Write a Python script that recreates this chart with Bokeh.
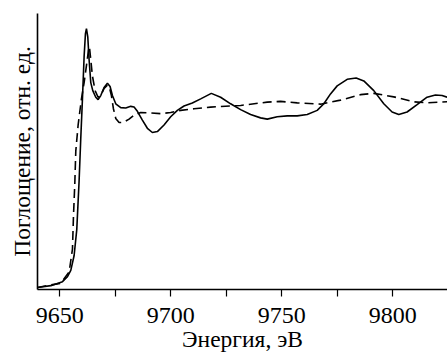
from bokeh.plotting import figure
from bokeh.models import FixedTicker, Range1d
from bokeh.embed import file_html
from bokeh.resources import INLINE

# Solid curve (energy, eV ; absorption, a.u.)
solid_e = [9640.0, 9646.0, 9651.25, 9653.5, 9655.0, 9656.5, 9657.7, 9658.75, 9659.5, 9660.25,
           9661.0, 9661.6, 9662.05, 9662.65, 9663.25, 9664.0, 9664.9, 9666.25, 9667.3, 9668.5,
           9670.0, 9671.5, 9672.7, 9673.75, 9675.25, 9677.5, 9679.75, 9682.0, 9683.5, 9685.0,
           9687.25, 9689.5, 9691.75, 9694.0, 9697.0, 9700.0, 9703.0, 9706.0, 9709.75, 9713.5,
           9718.3, 9722.5, 9727.0, 9731.5, 9736.0, 9740.5, 9743.5, 9748.0, 9752.5, 9757.0,
           9761.5, 9766.0, 9769.0, 9772.0, 9775.0, 9779.5, 9783.55, 9787.0, 9791.5, 9796.0,
           9799.75, 9802.75, 9806.5, 9811.0, 9815.5, 9819.25, 9822.25, 9824.5]
solid_y = [0.011, 0.021, 0.043, 0.070, 0.105, 0.186, 0.329, 0.596, 0.829, 1.043,
           1.275, 1.400, 1.427, 1.382, 1.257, 1.132, 1.088, 1.052, 1.039, 1.061,
           1.105, 1.129, 1.111, 1.061, 1.016, 0.995, 0.993, 1.002, 0.998, 0.975,
           0.927, 0.882, 0.859, 0.864, 0.900, 0.945, 0.980, 1.004, 1.020, 1.043,
           1.073, 1.052, 1.016, 0.984, 0.957, 0.939, 0.932, 0.945, 0.950, 0.950,
           0.957, 0.980, 1.016, 1.070, 1.114, 1.150, 1.157, 1.141, 1.088, 1.016,
           0.971, 0.957, 0.971, 1.011, 1.052, 1.064, 1.061, 1.052]

# Dashed curve
dashed_e = [9640.0, 9646.0, 9650.5, 9654.25, 9655.75, 9656.2, 9656.8, 9657.25, 9658.3, 9659.8,
            9661.0, 9662.2, 9662.95, 9663.4, 9664.0, 9664.75, 9665.95, 9667.3, 9668.5, 9670.0,
            9671.5, 9672.4, 9673.3, 9674.2, 9675.25, 9676.75, 9678.7, 9681.25, 9683.5, 9686.5,
            9691.0, 9695.5, 9700.0, 9704.5, 9710.5, 9718.0, 9731.5, 9743.5, 9749.5, 9757.0,
            9767.5, 9776.5, 9785.5, 9791.5, 9800.5, 9809.5, 9815.5, 9824.5]
dashed_y = [0.011, 0.025, 0.034, 0.096, 0.221, 0.400, 0.579, 0.757, 0.900, 1.043,
            1.132, 1.238, 1.309, 1.327, 1.257, 1.168, 1.088, 1.052, 1.061, 1.100,
            1.118, 1.105, 1.061, 0.989, 0.936, 0.914, 0.914, 0.932, 0.954, 0.968,
            0.966, 0.962, 0.968, 0.980, 0.989, 0.998, 1.007, 1.025, 1.029, 1.021,
            1.014, 1.036, 1.066, 1.073, 1.054, 1.027, 1.021, 1.027]

major_ticks = [9650, 9700, 9750, 9800]
minor_ticks = [9675, 9725, 9775, 9825]

FONT = "Liberation Serif"

p = figure(width=447, height=354, output_backend="svg", toolbar_location=None,
           x_range=Range1d(9640, 9824.7), y_range=Range1d(0, 1.51),
           min_border_left=37, min_border_right=0, min_border_top=13, min_border_bottom=59)
p.outline_line_color = None
p.grid.visible = False
p.background_fill_color = "white"
p.border_fill_color = "white"

p.line(solid_e, solid_y, line_color="black", line_width=1.6)
p.line(dashed_e, dashed_y, line_color="black", line_width=1.6, line_dash="9 5")

xa = p.xaxis[0]
xa.ticker = FixedTicker(ticks=major_ticks, minor_ticks=minor_ticks)
xa.axis_line_width = 1.6
xa.axis_line_color = "black"
xa.major_tick_in = 0
xa.major_tick_out = 7
xa.minor_tick_in = 0
xa.minor_tick_out = 7
xa.major_tick_line_width = 1.2
xa.minor_tick_line_width = 1.2
xa.major_label_text_font = FONT
xa.major_label_text_font_size = "24px"
xa.major_label_text_color = "black"
xa.major_label_standoff = 11
xa.axis_label = "Энергия, эВ"
xa.axis_label_text_font = FONT
xa.axis_label_text_font_size = "23.5px"
xa.axis_label_text_font_style = "normal"
xa.axis_label_text_color = "black"
xa.axis_label_standoff = 0

ya = p.yaxis[0]
ya.ticker = FixedTicker(ticks=[])
ya.axis_line_width = 1.6
ya.axis_line_color = "black"
ya.major_tick_line_color = None
ya.minor_tick_line_color = None
ya.major_label_text_font_size = "0px"
ya.axis_label = "Поглощение, отн. ед."
ya.axis_label_text_font = FONT
ya.axis_label_text_font_size = "23.5px"
ya.axis_label_text_font_style = "normal"
ya.axis_label_text_color = "black"
ya.axis_label_standoff = 3

open("out.html", "w").write(file_html(p, INLINE))
